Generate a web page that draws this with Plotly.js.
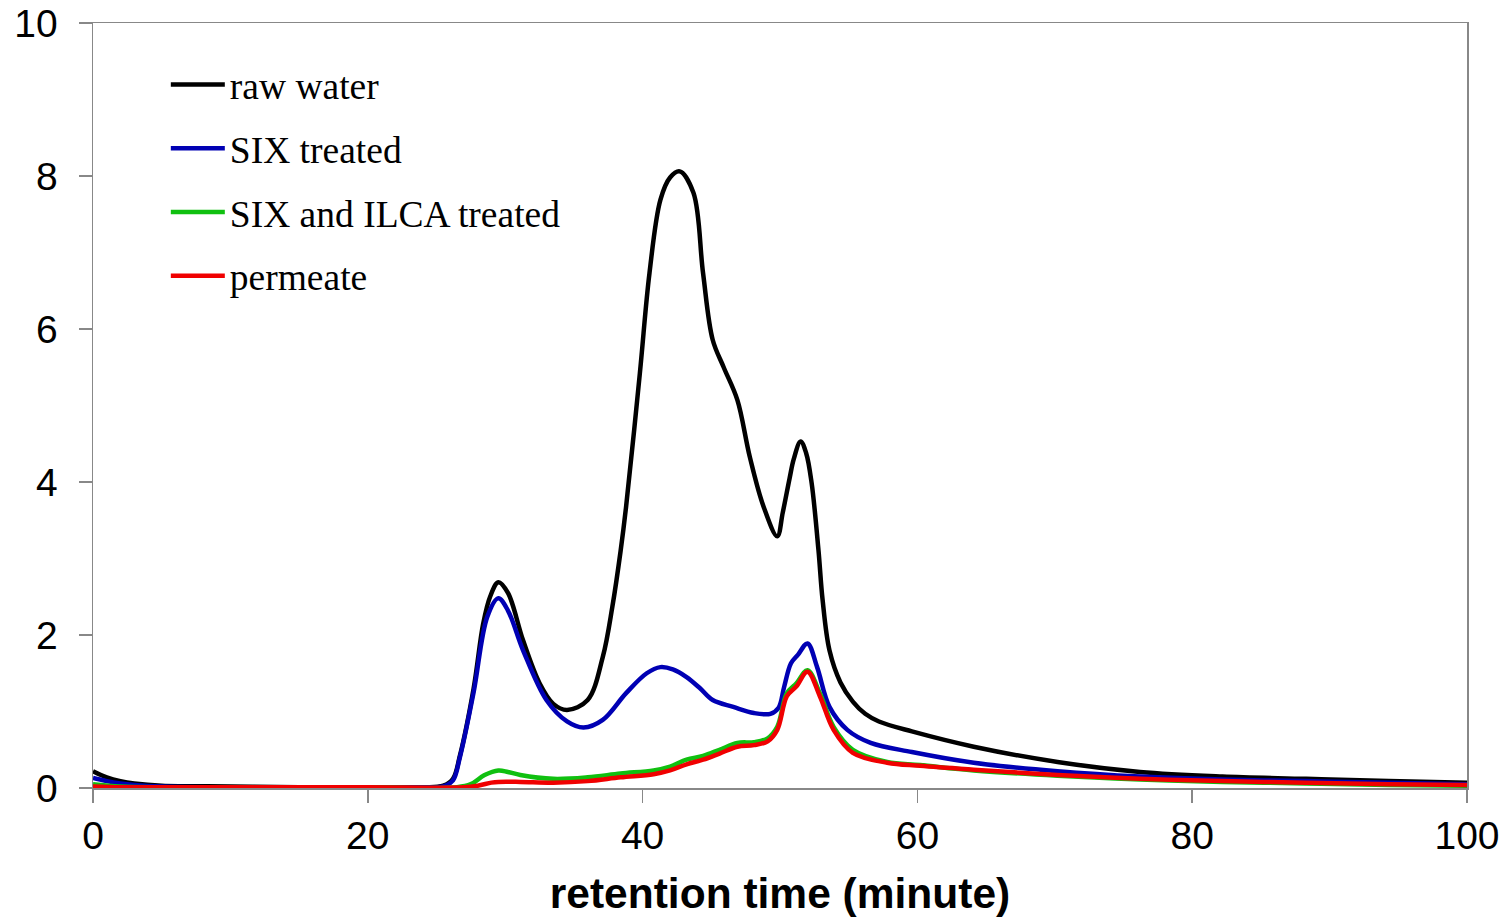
<!DOCTYPE html>
<html>
<head>
<meta charset="utf-8">
<script src="https://cdn.plot.ly/plotly-3.0.1.min.js"></script>
<style>html,body{margin:0;padding:0;background:#fff;}#chart{width:1510px;height:918px;}</style>
</head>
<body>
<div id="chart"></div>
<script>
// raw water
const rawX = [0, 1, 2, 3, 5, 10, 15, 20, 24, 25.5, 26.2, 26.7, 27.7, 28.4, 28.9, 29.5, 30.2, 31.3, 32.5, 33.5, 34.5, 36.0, 37.1, 37.8, 38.4, 38.8, 39.8, 40.5, 41.3, 42.0, 42.7, 43.7, 44.4, 45.1, 45.9, 46.9, 47.8, 48.8, 49.8, 50.2, 50.7, 51.0, 51.5, 51.9, 52.3, 52.8, 53.1, 53.6, 54.4, 55.3, 56.2, 57.2, 59.6, 64.1, 70.2, 76.2, 82.2, 88.3, 94.3, 100];
const rawY = [0.22, 0.14, 0.09, 0.06, 0.03, 0.02, 0.01, 0.01, 0.01, 0.03, 0.12, 0.42, 1.30, 2.15, 2.50, 2.69, 2.55, 1.93, 1.37, 1.10, 1.02, 1.15, 1.71, 2.37, 3.10, 3.68, 5.42, 6.73, 7.69, 7.98, 8.06, 7.78, 6.73, 5.86, 5.50, 5.07, 4.33, 3.68, 3.29, 3.60, 4.05, 4.30, 4.53, 4.38, 3.99, 3.11, 2.46, 1.80, 1.38, 1.13, 0.97, 0.87, 0.74, 0.54, 0.34, 0.21, 0.15, 0.12, 0.09, 0.07];
// SIX treated
const sixX = [0, 1, 2, 3, 5, 10, 20, 24, 25.5, 26.2, 26.7, 27.7, 28.7, 29.5, 30.2, 31.3, 33.0, 34.5, 35.7, 37.1, 38.8, 40.3, 41.3, 42.2, 43.2, 44.2, 45.1, 46.6, 48.1, 49.3, 49.9, 50.3, 50.8, 51.3, 52.0, 52.7, 53.6, 54.9, 56.6, 59.6, 64.1, 70.2, 76.2, 82.2, 88.3, 94.3, 100];
const sixY = [0.13, 0.09, 0.06, 0.04, 0.02, 0.01, 0.01, 0.01, 0.02, 0.10, 0.40, 1.25, 2.24, 2.48, 2.32, 1.80, 1.15, 0.87, 0.79, 0.89, 1.24, 1.50, 1.58, 1.55, 1.45, 1.30, 1.15, 1.06, 0.98, 0.97, 1.05, 1.32, 1.63, 1.74, 1.89, 1.58, 1.06, 0.76, 0.59, 0.47, 0.33, 0.22, 0.15, 0.11, 0.09, 0.07, 0.05];
// SIX and ILCA treated
const ilcaX = [0, 2, 5, 10, 20, 26.5, 27.5, 28.5, 29.5, 30.2, 31.1, 33.5, 36.0, 38.4, 40.8, 42.0, 43.2, 44.4, 45.6, 46.9, 48.1, 49.1, 49.8, 50.5, 51.2, 52.0, 52.9, 53.9, 55.3, 57.8, 60.2, 64.1, 70.2, 76.2, 82.2, 88.3, 94.3, 100];
const ilcaY = [0.05, 0.02, 0.01, 0.01, 0.01, 0.01, 0.05, 0.17, 0.23, 0.21, 0.17, 0.12, 0.14, 0.19, 0.23, 0.28, 0.37, 0.42, 0.50, 0.59, 0.60, 0.65, 0.80, 1.24, 1.37, 1.54, 1.24, 0.80, 0.50, 0.34, 0.30, 0.23, 0.16, 0.11, 0.08, 0.06, 0.04, 0.03];
// permeate
const permX = [0, 2, 5, 10, 20, 27.0, 28.0, 29.0, 29.5, 31.1, 33.5, 36.0, 38.4, 40.8, 42.0, 43.2, 44.4, 45.6, 46.9, 48.1, 49.1, 49.8, 50.5, 51.2, 52.0, 52.9, 53.9, 55.3, 57.8, 60.2, 64.1, 70.2, 76.2, 82.2, 88.3, 94.3, 100];
const permY = [0.02, 0.01, 0.01, 0.01, 0.01, 0.01, 0.03, 0.07, 0.08, 0.08, 0.07, 0.09, 0.14, 0.18, 0.23, 0.31, 0.37, 0.45, 0.54, 0.56, 0.61, 0.76, 1.20, 1.33, 1.52, 1.20, 0.76, 0.46, 0.33, 0.29, 0.24, 0.17, 0.12, 0.09, 0.07, 0.05, 0.04];

const seriesNames = ["raw water", "SIX treated", "SIX and ILCA treated", "permeate"];
const seriesColors = ["#000000", "#0000b4", "#10c010", "#f00000"];
const xTicks = [0, 20, 40, 60, 80, 100];
const yTicks = [0, 2, 4, 6, 8, 10];

const xs = [rawX, sixX, ilcaX, permX];
const ys = [rawY, sixY, ilcaY, permY];
const traces = xs.map((x, i) => ({
  type: "scatter", mode: "lines", x: x, y: ys[i], name: seriesNames[i],
  legendgroup: "g" + i,
  line: {color: seriesColors[i], width: 4.5, shape: "spline", smoothing: 1}
}));

const axisCommon = {
  showgrid: false, zeroline: false, showline: true, mirror: true,
  linecolor: "#888888", linewidth: 1.5, ticks: "outside", ticklen: 13,
  tickcolor: "#888888", tickwidth: 1.5,
  tickfont: {family: "Liberation Sans, Arial, sans-serif", size: 39, color: "#000"}
};

const layout = {
  width: 1510, height: 918,
  margin: {l: 93, r: 43, t: 23, b: 130},
  paper_bgcolor: "#ffffff", plot_bgcolor: "#ffffff",
  showlegend: true,
  legend: {
    x: 0.053, y: 0.96, xanchor: "left", yanchor: "top",
    bgcolor: "rgba(0,0,0,0)", borderwidth: 0,
    font: {family: "Liberation Serif, Times New Roman, serif", size: 37.5, color: "#000"},
    tracegroupgap: 12, itemwidth: 54
  },
  xaxis: Object.assign({}, axisCommon, {
    range: [0, 100], tickvals: xTicks, ticktext: xTicks.map(String),
    title: {text: "retention time (minute)", standoff: 22,
      font: {family: "Liberation Sans, Arial, sans-serif", size: 42.5, color: "#000", weight: "bold"}}
  }),
  yaxis: Object.assign({}, axisCommon, {
    range: [0, 10], tickvals: yTicks, ticktext: yTicks.map(String), ticklabelstandoff: 13
  })
};

Plotly.newPlot("chart", traces, layout, {displayModeBar: false, staticPlot: true});
</script>
</body>
</html>
